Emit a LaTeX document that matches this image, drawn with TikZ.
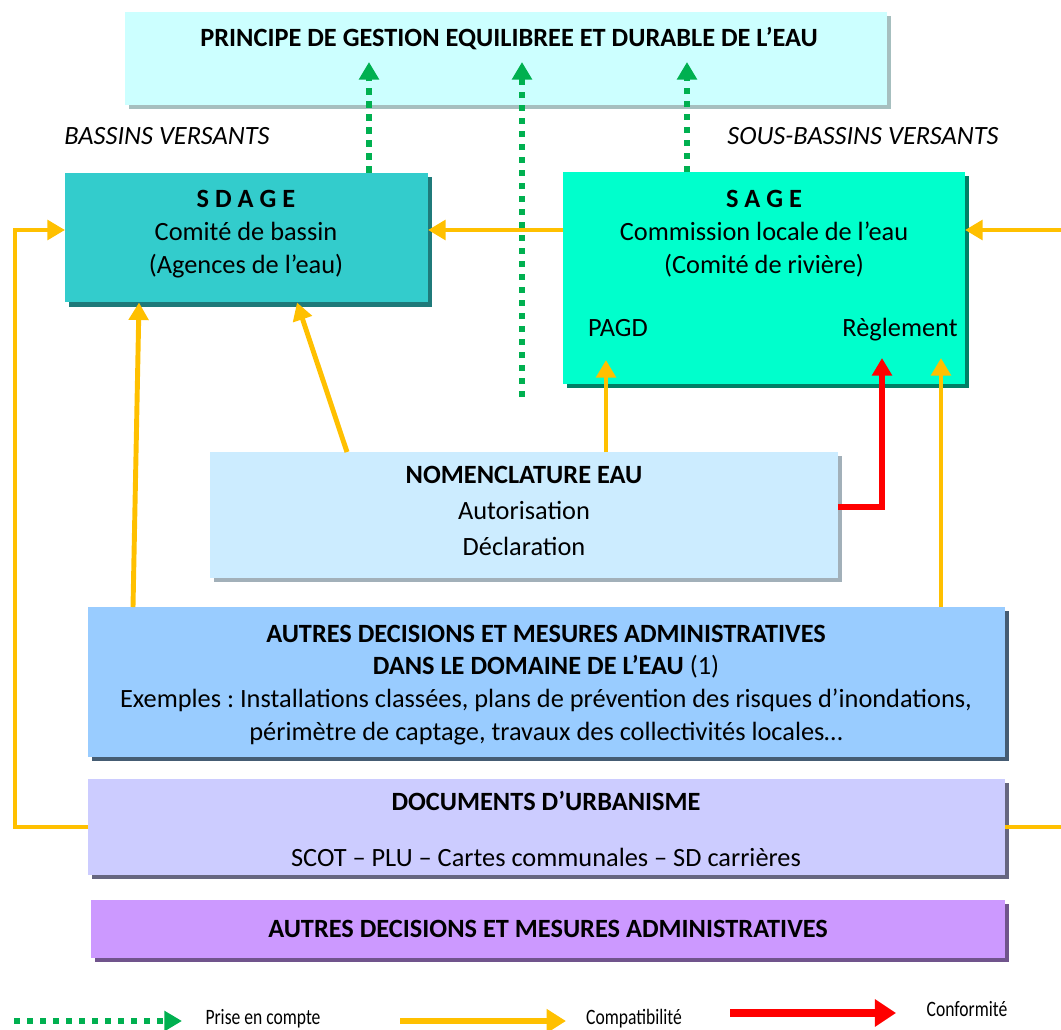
\documentclass[tikz,border=0pt]{standalone}
\usepackage{fontspec}
\setmainfont{Carlito}
\usepackage{tikz}
\usetikzlibrary{positioning,arrows.meta,shadows}
\definecolor{vert}{HTML}{00B050}
\definecolor{jaune}{HTML}{FFC000}
\definecolor{rouge}{HTML}{FF0000}
\definecolor{ciel}{HTML}{CCFFFF}
\definecolor{turquoise}{HTML}{33CCCC}
\definecolor{menthe}{HTML}{00FFCC}
\definecolor{glace}{HTML}{CCECFF}
\definecolor{azur}{HTML}{99CCFF}
\definecolor{lavande}{HTML}{CCCCFF}
\definecolor{mauve}{HTML}{CC99FF}
\frenchspacing

\begin{document}
\begin{tikzpicture}[x=0.02cm, y=-0.02cm,
  cadre/.style={fill=#1, inner sep=0pt, outer sep=0pt},
  ombre/.style={general shadow={fill=#1, shadow xshift=2.3pt, shadow yshift=-2.3pt}},
  texte/.style={align=center, inner sep=0pt, font=\fontsize{15}{18.7}\selectfont},
  legende/.style={inner sep=0pt, font=\fontsize{12.5}{14}\selectfont},
  prise/.style={vert, line width=3.4pt, dash pattern=on 3.6pt off 3.8pt, -{Triangle[length=10pt,width=11pt]}},
  compat/.style={jaune, line width=2.8pt, -{Triangle[length=10pt,width=11pt]}},
  conf/.style={rouge, line width=3.4pt, -{Triangle[length=10pt,width=11pt]}}]
  \useasboundingbox (0,0) rectangle (1061,1030);
  \clip (0,0) rectangle (1061,1030);
  % Define boxes
  \node[cadre=ciel, ombre={ciel!50!gray}, minimum width=15.24cm, minimum height=1.86cm] (principe) at (506,58.5) {};
  \node[cadre=turquoise, ombre={turquoise!60!black}, minimum width=7.26cm, minimum height=2.6cm] (sdage) at (246.5,237.5) {};
  \node[cadre=menthe, ombre={menthe!50!black}, minimum width=8.04cm, minimum height=4.24cm] (sage) at (764,278) {};
  \node[cadre=glace, ombre={glace!45!gray}, minimum width=12.56cm, minimum height=2.52cm] (nomen) at (524,515) {};
  \node[cadre=azur, ombre={azur!45!black}, minimum width=18.34cm, minimum height=3cm] (eau) at (546.5,682) {};
  \node[cadre=lavande, ombre={lavande!50!black}, minimum width=18.34cm, minimum height=1.92cm] (urba) at (546.5,827) {};
  \node[cadre=mauve, ombre={mauve!55!black}, minimum width=18.28cm, minimum height=1.16cm] (autres) at (548,929) {};
  % Define texts
  \node[texte] (principetxt) at (509,39) {\textbf{PRINCIPE DE GESTION EQUILIBREE ET DURABLE DE L’EAU}};
  \node[texte, font=\fontsize{15}{18.7}\selectfont\itshape] (bv) at (167,136) {BASSINS VERSANTS};
  \node[texte, font=\fontsize{15}{18.7}\selectfont\itshape] (sbv) at (863,136) {SOUS-BASSINS VERSANTS};
  \node[texte] (sdagetxt) at (246,234) {\textbf{S D A G E}\\Comité de bassin\\(Agences de l’eau)};
  \node[texte] (sagetxt) at (764,234) {\textbf{S A G E}\\Commission locale de l’eau\\(Comité de rivière)};
  \node[texte, anchor=base] (pagd) at (618,337) {PAGD};
  \node[texte, anchor=base] (reglement) at (900,337) {Règlement};
  \node[texte] (nomentxt) at (524,511) {\textbf{NOMENCLATURE EAU}\\[2pt]Autorisation\\[2pt]Déclaration};
  \node[texte] (eautxt) at (546,685) {\textbf{AUTRES DECISIONS ET MESURES ADMINISTRATIVES}\\
    \textbf{DANS LE DOMAINE DE L’EAU} (1)\\
    Exemples : Installations classées, plans de prévention des risques d’inondations,\\
    périmètre de captage, travaux des collectivités locales…};
  \node[texte] (urbatxt) at (546,829) {\textbf{DOCUMENTS D’URBANISME}\\[13pt]SCOT – PLU – Cartes communales – SD carrières};
  \node[texte] (autrestxt) at (548,929) {\textbf{AUTRES DECISIONS ET MESURES ADMINISTRATIVES}};
  % Define arrow ends
  \coordinate (t1) at (369,62);
  \coordinate (t2) at (522,62);
  \coordinate (t3) at (687,62);
  \coordinate (g2) at (522,397);
  \coordinate (gauche) at (15,230);
  \coordinate (droite) at (1080,230);
  \coordinate (p1) at (606,360);
  \coordinate (p2) at (882,358);
  \coordinate (p3) at (941,358);
  % Define edges
  \draw[prise] (sdage.north -| t1) -- (t1);
  \draw[prise] (g2) -- (t2);
  \draw[prise] (sage.north -| t3) -- (t3);
  \draw[compat] (sage.west |- gauche) -- (sdage.east |- gauche);
  \draw[compat] (urba.west) -| (gauche) -- (sdage.west |- gauche);
  \draw[compat] (urba.east) -| (droite) -- (sage.east |- droite);
  \draw[compat] (eau.north -| 133,0) -- (sdage.south -| 139,0);
  \draw[compat] (nomen.north -| 347,0) -- (sdage.south -| 297,0);
  \draw[compat] (nomen.north -| p1) -- (p1);
  \draw[compat] (eau.north -| p3) -- (p3);
  \draw[conf] (nomen.east |- 0,507) -| (p2);
  % Define legend
  \node[legende] (lprise) at (263,1019) {\scalebox{0.8}[1]{Prise en compte}};
  \node[legende] (lcompat) at (634,1019) {\scalebox{0.8}[1]{Compatibilité}};
  \node[legende] (lconf) at (967,1009) {\scalebox{0.8}[1]{Conformité}};
  \coordinate (l1) at (14,1021);
  \coordinate (l2) at (400,1021);
  \coordinate (l3) at (730,1013);
  \draw[prise] (l1) -- ++(168,0);
  \draw[compat, line width=3.8pt, -{Triangle[length=11pt,width=13pt]}] (l2) -- ++(166,0);
  \draw[conf, line width=4.4pt, -{Triangle[length=12pt,width=15pt]}] (l3) -- ++(166,0);
\end{tikzpicture}
\end{document}
